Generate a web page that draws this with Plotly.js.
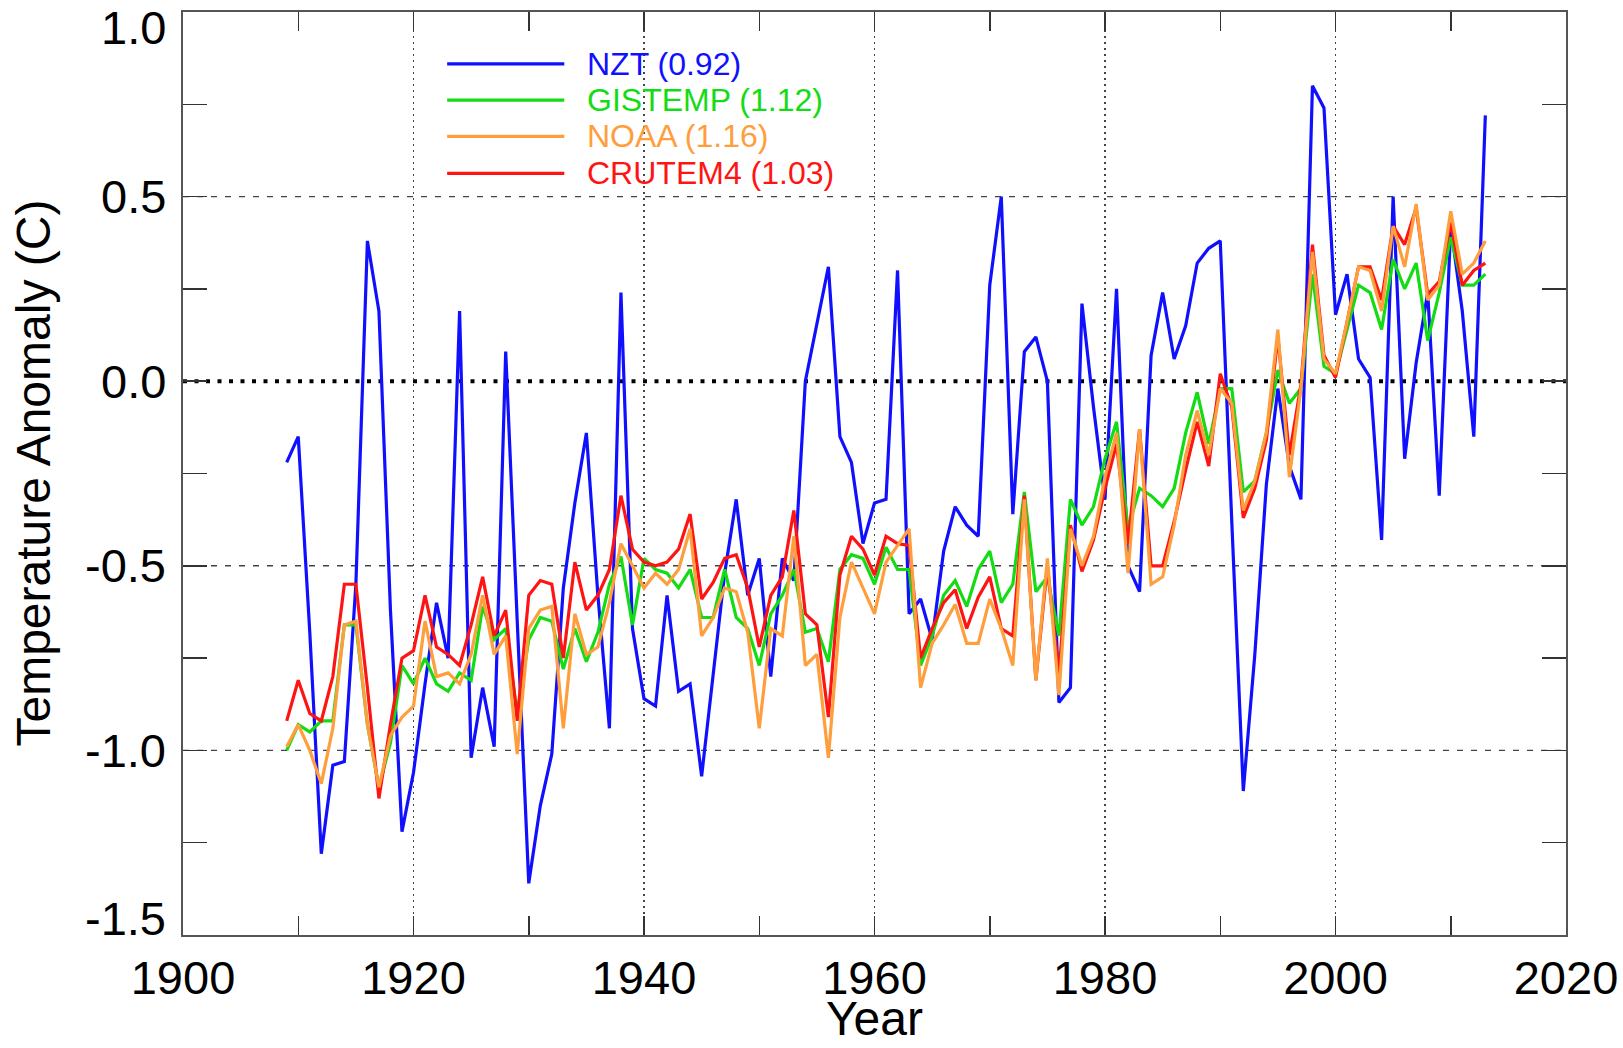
<!DOCTYPE html>
<html>
<head>
<meta charset="utf-8">
<script src="https://cdn.plot.ly/plotly-3.0.1.min.js"></script>
<style>
  html, body { margin: 0; padding: 0; background: #ffffff; }
  #chart { width: 1623px; height: 1048px; }
</style>
</head>
<body>
<div id="chart"></div>
<script>
const years = [
  1909,1910,1911,1912,1913,1914,1915,1916,1917,1918,
  1919,1920,1921,1922,1923,1924,1925,1926,1927,1928,
  1929,1930,1931,1932,1933,1934,1935,1936,1937,1938,
  1939,1940,1941,1942,1943,1944,1945,1946,1947,1948,
  1949,1950,1951,1952,1953,1954,1955,1956,1957,1958,
  1959,1960,1961,1962,1963,1964,1965,1966,1967,1968,
  1969,1970,1971,1972,1973,1974,1975,1976,1977,1978,
  1979,1980,1981,1982,1983,1984,1985,1986,1987,1988,
  1989,1990,1991,1992,1993,1994,1995,1996,1997,1998,
  1999,2000,2001,2002,2003,2004,2005,2006,2007,2008,
  2009,2010,2011,2012,2013
];

const nzt = [
  -0.22,-0.15,-0.68,-1.28,-1.04,-1.03,-0.55,0.38,0.19,-0.62,
  -1.22,-1.06,-0.82,-0.60,-0.75,0.19,-1.02,-0.83,-0.99,0.08,
  -0.65,-1.36,-1.15,-1.01,-0.56,-0.33,-0.14,-0.58,-0.94,0.24,
  -0.67,-0.86,-0.88,-0.58,-0.84,-0.82,-1.07,-0.80,-0.52,-0.32,
  -0.58,-0.48,-0.80,-0.48,-0.54,0.00,0.15,0.31,-0.15,-0.22,
  -0.44,-0.33,-0.32,0.30,-0.63,-0.59,-0.70,-0.46,-0.34,-0.39,
  -0.42,0.26,0.50,-0.36,0.08,0.12,0.00,-0.87,-0.83,0.21,
  -0.07,-0.32,0.25,-0.50,-0.57,0.07,0.24,0.06,0.15,0.32,
  0.36,0.38,-0.38,-1.11,-0.74,-0.28,-0.02,-0.23,-0.32,0.80,
  0.74,0.18,0.29,0.06,0.01,-0.43,0.50,-0.21,0.05,0.24,
  -0.31,0.42,0.19,-0.15,0.72
];

const gistemp = [
  -1.00,-0.93,-0.95,-0.92,-0.92,-0.66,-0.66,-0.93,-1.10,-0.98,
  -0.77,-0.82,-0.75,-0.82,-0.84,-0.79,-0.81,-0.61,-0.70,-0.67,
  -0.90,-0.70,-0.64,-0.65,-0.78,-0.67,-0.76,-0.68,-0.55,-0.475,
  -0.66,-0.48,-0.51,-0.52,-0.56,-0.51,-0.64,-0.64,-0.51,-0.64,
  -0.67,-0.77,-0.63,-0.58,-0.51,-0.68,-0.67,-0.76,-0.51,-0.47,
  -0.48,-0.55,-0.45,-0.51,-0.51,-0.77,-0.69,-0.58,-0.54,-0.61,
  -0.51,-0.46,-0.60,-0.55,-0.30,-0.57,-0.53,-0.69,-0.32,-0.39,
  -0.34,-0.21,-0.11,-0.40,-0.29,-0.31,-0.34,-0.29,-0.14,-0.03,
  -0.17,-0.02,-0.02,-0.30,-0.27,-0.14,0.03,-0.06,-0.02,0.29,
  0.04,0.02,0.14,0.26,0.24,0.14,0.33,0.25,0.32,0.11,
  0.24,0.39,0.26,0.26,0.29
];

const noaa = [
  -0.99,-0.93,-1.00,-1.09,-0.94,-0.66,-0.65,-0.93,-1.10,-0.96,
  -0.91,-0.88,-0.65,-0.80,-0.79,-0.82,-0.74,-0.58,-0.74,-0.69,
  -1.01,-0.67,-0.62,-0.61,-0.94,-0.63,-0.74,-0.72,-0.60,-0.44,
  -0.50,-0.56,-0.52,-0.55,-0.51,-0.40,-0.69,-0.64,-0.56,-0.57,
  -0.68,-0.94,-0.67,-0.69,-0.42,-0.77,-0.74,-1.02,-0.64,-0.49,
  -0.56,-0.63,-0.49,-0.445,-0.40,-0.83,-0.71,-0.66,-0.605,-0.71,
  -0.71,-0.59,-0.67,-0.77,-0.32,-0.81,-0.48,-0.85,-0.40,-0.50,
  -0.42,-0.26,-0.14,-0.52,-0.13,-0.55,-0.53,-0.39,-0.20,-0.08,
  -0.20,-0.02,-0.06,-0.35,-0.27,-0.14,0.14,-0.26,-0.02,0.35,
  0.06,0.02,0.16,0.31,0.30,0.19,0.42,0.31,0.48,0.22,
  0.26,0.46,0.29,0.32,0.38
];

const crutem4 = [
  -0.92,-0.81,-0.90,-0.92,-0.80,-0.55,-0.55,-0.83,-1.13,-0.93,
  -0.75,-0.73,-0.58,-0.72,-0.74,-0.77,-0.66,-0.53,-0.69,-0.62,
  -0.92,-0.58,-0.54,-0.55,-0.75,-0.49,-0.62,-0.58,-0.51,-0.31,
  -0.455,-0.49,-0.50,-0.49,-0.455,-0.36,-0.59,-0.545,-0.48,-0.47,
  -0.56,-0.72,-0.58,-0.53,-0.35,-0.63,-0.66,-0.91,-0.525,-0.42,
  -0.455,-0.525,-0.42,-0.44,-0.445,-0.75,-0.67,-0.60,-0.565,-0.67,
  -0.585,-0.53,-0.67,-0.69,-0.31,-0.81,-0.50,-0.795,-0.39,-0.515,
  -0.43,-0.29,-0.17,-0.44,-0.13,-0.50,-0.50,-0.38,-0.24,-0.11,
  -0.23,0.02,-0.07,-0.37,-0.29,-0.16,0.12,-0.20,-0.01,0.37,
  0.07,0.01,0.16,0.31,0.31,0.22,0.42,0.37,0.47,0.235,
  0.27,0.43,0.26,0.30,0.32
];

const seriesNames  = ['NZT (0.92)', 'GISTEMP (1.12)', 'NOAA (1.16)', 'CRUTEM4 (1.03)'];
const seriesData   = [nzt, gistemp, noaa, crutem4];
const seriesColors = ['#1010ff', '#14dc14', '#ff9e3c', '#ff1414'];
const drawOrder    = [0, 1, 3, 2];

const xTickVals   = [1900, 1920, 1940, 1960, 1980, 2000, 2020];
const yTickVals   = [-1.5, -1.0, -0.5, 0.0, 0.5, 1.0];
const yTickLabels = ['-1.5', '-1.0', '-0.5', '0.0', '0.5', '1.0'];
const yGridVals   = [-1.0, -0.5, 0.5];
const xTitle = 'Year';
const yTitle = 'Temperature Anomaly (C)';

const FONT = '"Liberation Sans", Arial, Helvetica, sans-serif';
const Y_MIN = -1.5, Y_MAX = 1.0;

const traces = drawOrder.map(i => ({
  type: 'scatter',
  mode: 'lines',
  x: years,
  y: seriesData[i],
  name: seriesNames[i],
  line: { color: seriesColors[i], width: 3.2 },
  showlegend: false,
  hoverinfo: 'x+y+name'
}));

const shapes = [];
yGridVals.forEach(v => shapes.push({
  type: 'line', xref: 'paper', yref: 'y', x0: 0, x1: 1, y0: v, y1: v,
  layer: 'below', line: { color: '#444444', width: 1.4, dash: '6px,8px' }
}));
shapes.push({
  type: 'line', xref: 'paper', yref: 'y', x0: 0, x1: 1, y0: 0, y1: 0,
  layer: 'below', line: { color: '#000000', width: 4, dash: '4px,7.5px' }
});

const annotations = [];

// y tick labels (end labels nudged inside the frame, as in the original)
yTickVals.forEach((v, i) => {
  let ys = 0;
  if (v === Y_MAX) ys = -15;
  if (v === Y_MIN) ys = 17;
  annotations.push({
    xref: 'paper', yref: 'y', x: 0, y: v, xanchor: 'right', yanchor: 'middle',
    xshift: -15, yshift: ys, showarrow: false,
    text: yTickLabels[i], font: { family: FONT, size: 47, color: '#000000' }
  });
});

// y axis title
annotations.push({
  xref: 'paper', yref: 'paper', x: 0, y: 0.5, xanchor: 'center', yanchor: 'middle',
  xshift: -150, showarrow: false, textangle: -90,
  text: yTitle, font: { family: FONT, size: 48, color: '#000000' }
});

// x axis title
annotations.push({
  xref: 'paper', yref: 'paper', x: 0.5, y: 0, xanchor: 'center', yanchor: 'bottom',
  yshift: -112, showarrow: false,
  text: xTitle, font: { family: FONT, size: 48, color: '#000000' }
});

// legend (drawn as line samples + coloured labels)
const legendY = [0.9438, 0.9046, 0.8653, 0.8251];
seriesNames.forEach((n, i) => {
  shapes.push({
    type: 'line', xref: 'paper', yref: 'paper',
    x0: 0.191, x1: 0.2757, y0: legendY[i], y1: legendY[i],
    line: { color: seriesColors[i], width: 3.2 }
  });
  annotations.push({
    xref: 'paper', yref: 'paper', x: 0.2905, y: legendY[i],
    xanchor: 'left', yanchor: 'middle', showarrow: false,
    text: n, font: { family: FONT, size: 32, color: seriesColors[i] }
  });
});

const layout = {
  width: 1623, height: 1048,
  margin: { l: 183, r: 57, t: 12, b: 113, pad: 0 },
  paper_bgcolor: '#ffffff', plot_bgcolor: '#ffffff',
  font: { family: FONT, color: '#000000' },
  showlegend: false,
  xaxis: {
    range: [1900, 2020],
    tickmode: 'array', tickvals: xTickVals, ticktext: xTickVals.map(String),
    ticks: 'inside', ticklen: 19, tickwidth: 1.5, tickcolor: '#333333',
    minor: { dtick: 10, tick0: 1900, ticks: 'inside', ticklen: 19, tickwidth: 1.5, tickcolor: '#333333', showgrid: false },
    showline: true, linecolor: '#555555', linewidth: 2, mirror: 'ticks',
    showgrid: true, gridcolor: '#444444', gridwidth: 1.4, griddash: '2px,4px',
    zeroline: false,
    tickfont: { family: FONT, size: 47, color: '#000000' },
    ticklabelstandoff: 1,
    automargin: false
  },
  yaxis: {
    range: [Y_MIN, Y_MAX],
    tickmode: 'array', tickvals: yTickVals, showticklabels: false,
    ticks: 'inside', ticklen: 24, tickwidth: 1.5, tickcolor: '#333333',
    minor: { dtick: 0.25, tick0: 0, ticks: 'inside', ticklen: 24, tickwidth: 1.5, tickcolor: '#333333', showgrid: false },
    showline: true, linecolor: '#555555', linewidth: 2, mirror: 'ticks',
    showgrid: false, zeroline: false,
    automargin: false
  },
  shapes: shapes,
  annotations: annotations
};

Plotly.newPlot('chart', traces, layout, { displayModeBar: false, staticPlot: true });
</script>
</body>
</html>
